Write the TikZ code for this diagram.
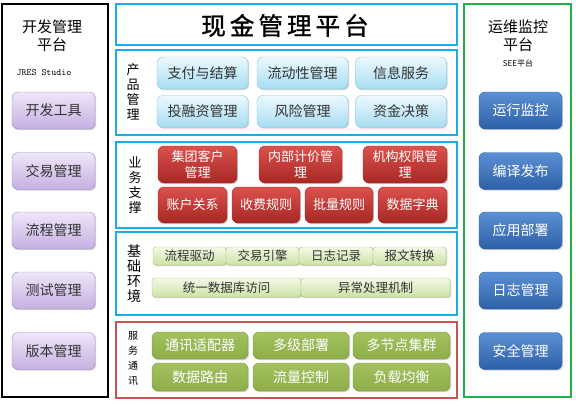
\documentclass[tikz,border=0pt]{standalone}
\usepackage{fontspec}
\setmainfont{Noto Sans CJK SC}
\newfontfamily\titlefont[FakeBold=1.2]{Noto Sans CJK SC}
\usetikzlibrary{shadows}
\definecolor{frameblue}{HTML}{19AEEB}
\definecolor{framered}{HTML}{C9544F}
\definecolor{framegreen}{HTML}{22B04C}
\definecolor{devtop}{HTML}{EEE6F8}
\definecolor{devbot}{HTML}{C6AFE2}
\definecolor{devdraw}{HTML}{9F8AC8}
\definecolor{opstop}{HTML}{5C90D4}
\definecolor{opsbot}{HTML}{2D60A6}
\definecolor{prodtop}{HTML}{EDF9FE}
\definecolor{prodbot}{HTML}{A6DCF2}
\definecolor{proddraw}{HTML}{7CC8E8}
\definecolor{biztop}{HTML}{DB514D}
\definecolor{bizbot}{HTML}{A72824}
\definecolor{basetop}{HTML}{F3F9E6}
\definecolor{basebot}{HTML}{CCE3A6}
\definecolor{basedraw}{HTML}{A5C46A}
\definecolor{svctop}{HTML}{A3C25F}
\definecolor{svcbot}{HTML}{8CAD49}
\definecolor{svcdraw}{HTML}{7A9A3E}
\definecolor{inktext}{HTML}{333333}

\begin{document}
\begin{tikzpicture}[x=1pt,y=-1pt,
  btn/.style={rectangle,rounded corners=6pt,align=center,inner sep=1pt,
    drop shadow={shadow xshift=1.2pt,shadow yshift=-1.2pt,opacity=.35}},
  devbtn/.style={btn,draw=devdraw,top color=devtop,bottom color=devbot,text=inktext,
    minimum width=83pt,minimum height=37pt,font=\fontsize{14}{14}\selectfont},
  opsbtn/.style={btn,draw=opsbot,top color=opstop,bottom color=opsbot,text=white,
    minimum width=83pt,minimum height=37pt,font=\fontsize{14}{14}\selectfont},
  prodbtn/.style={btn,draw=proddraw,top color=prodtop,bottom color=prodbot,text=inktext,
    minimum width=91pt,minimum height=32pt,font=\fontsize{14}{14}\selectfont},
  bizbtn/.style={btn,draw=bizbot,top color=biztop,bottom color=bizbot,text=white,
    minimum height=37pt,font=\fontsize{13}{16.5}\selectfont},
  basebtn/.style={btn,rounded corners=3pt,draw=basedraw,top color=basetop,bottom color=basebot,
    text=inktext,minimum height=18pt,font=\fontsize{12.5}{12.5}\selectfont},
  svcbtn/.style={btn,draw=svcdraw,top color=svctop,bottom color=svcbot,text=white,
    minimum width=96pt,minimum height=27pt,font=\fontsize{14}{14}\selectfont},
  layer/.style={draw=frameblue,line width=1.6pt},
  sidelabel/.style={align=center,inner sep=0pt,font=\fontsize{13}{15}\selectfont}]
\useasboundingbox (0,0) rectangle (576,405);
\fill[white] (0,0) rectangle (576,405);

\draw[line width=1.3pt,drop shadow={shadow xshift=1.2pt,shadow yshift=-1.2pt,opacity=.3},fill=white] (2,4) rectangle (108,397);
\node[align=center,font=\fontsize{15}{18}\selectfont] (devtitle) at (52,36) {开发管理\\平台};
\node[font=\ttfamily\fontsize{9.5}{9.5}\selectfont] (devsub) at (44,73) {JRES Studio};
\node[devbtn] (devtool) at (53.5,110.5) {开发工具};
\node[devbtn] (devtrade) at (53.5,171) {交易管理};
\node[devbtn] (devflow) at (53.5,230.5) {流程管理};
\node[devbtn] (devtest) at (53.5,290.5) {测试管理};
\node[devbtn] (devver) at (53.5,351) {版本管理};

\draw[layer] (116,4) rectangle (457,45);
\node[font=\titlefont\fontsize{24.5}{24.5}\selectfont] (title) at (285,25.5) {现\,金\,管\,理\,平\,台};

\draw[layer] (116,50) rectangle (457,135);
\node[sidelabel] (prodlabel) at (133,92) {产\\品\\管\\理};
\node[prodbtn] (pay) at (202.5,73) {支付与结算};
\node[prodbtn] (liquid) at (302.5,73) {流动性管理};
\node[prodbtn] (info) at (401,73) {信息服务};
\node[prodbtn] (invest) at (202.5,111.5) {投融资管理};
\node[prodbtn] (risk) at (302.5,111.5) {风险管理};
\node[prodbtn] (decide) at (401,111.5) {资金决策};

\draw[layer] (116,142) rectangle (457,228);
\node[sidelabel] (bizlabel) at (135,185) {业\\务\\支\\撑};
\node[bizbtn,minimum width=79pt] (group) at (197.5,164.5) {集团客户\\管理};
\node[bizbtn,minimum width=83pt] (pricing) at (300.5,164.5) {内部计价管\\理};
\node[bizbtn,minimum width=84pt] (rights) at (405,164.5) {机构权限管\\理};
\node[bizbtn,minimum width=69pt,minimum height=36pt] (account) at (192.5,205) {账户关系};
\node[bizbtn,minimum width=68pt,minimum height=36pt] (fee) at (266,205) {收费规则};
\node[bizbtn,minimum width=68pt,minimum height=36pt] (batch) at (339,205) {批量规则};
\node[bizbtn,minimum width=69pt,minimum height=36pt] (dict) at (412.5,205) {数据字典};

\draw[layer] (116,232) rectangle (457,315);
\node[sidelabel,font=\fontsize{14}{15}\selectfont] (baselabel) at (134,274) {基\\础\\环\\境};
\node[basebtn,minimum width=73pt] (drive) at (189.5,256) {流程驱动};
\node[basebtn,minimum width=73pt] (engine) at (262.5,256) {交易引擎};
\node[basebtn,minimum width=74pt] (logrec) at (336,256) {日志记录};
\node[basebtn,minimum width=73pt] (msgconv) at (409.5,256) {报文转换};
\node[basebtn,minimum width=149pt,minimum height=19pt] (dbaccess) at (226.5,287.5) {统一数据库访问};
\node[basebtn,minimum width=149pt,minimum height=19pt] (except) at (375.5,287.5) {异常处理机制};

\draw[draw=framered,line width=1.3pt] (116,322) rectangle (457,398);
\node[sidelabel,font=\fontsize{10}{15}\selectfont] (svclabel) at (133,358.5) {服\\务\\通\\讯};
\node[svcbtn] (adapter) at (200,345.5) {通讯适配器};
\node[svcbtn] (multilevel) at (301,345.5) {多级部署};
\node[svcbtn,minimum width=97pt] (cluster) at (401.5,345.5) {多节点集群};
\node[svcbtn,minimum height=28pt] (route) at (200,377) {数据路由};
\node[svcbtn,minimum height=28pt] (flow) at (301,377) {流量控制};
\node[svcbtn,minimum width=97pt,minimum height=28pt] (balance) at (401.5,377) {负载均衡};

\draw[draw=framegreen,line width=1.4pt,drop shadow={shadow xshift=1.2pt,shadow yshift=-1.2pt,opacity=.25},fill=white] (464,4) rectangle (571,397);
\node[align=center,font=\fontsize{15}{18}\selectfont] (opstitle) at (518,36) {运维监控\\平台};
\node[font=\fontsize{8}{8}\selectfont] (opssub) at (518,63) {SEE平台};
\node[opsbtn] (monitor) at (520.5,110.5) {运行监控};
\node[opsbtn] (publish) at (520.5,171) {编译发布};
\node[opsbtn] (deploy) at (520.5,230.5) {应用部署};
\node[opsbtn] (logmgr) at (520.5,290.5) {日志管理};
\node[opsbtn] (security) at (520.5,351) {安全管理};
\end{tikzpicture}
\end{document}
